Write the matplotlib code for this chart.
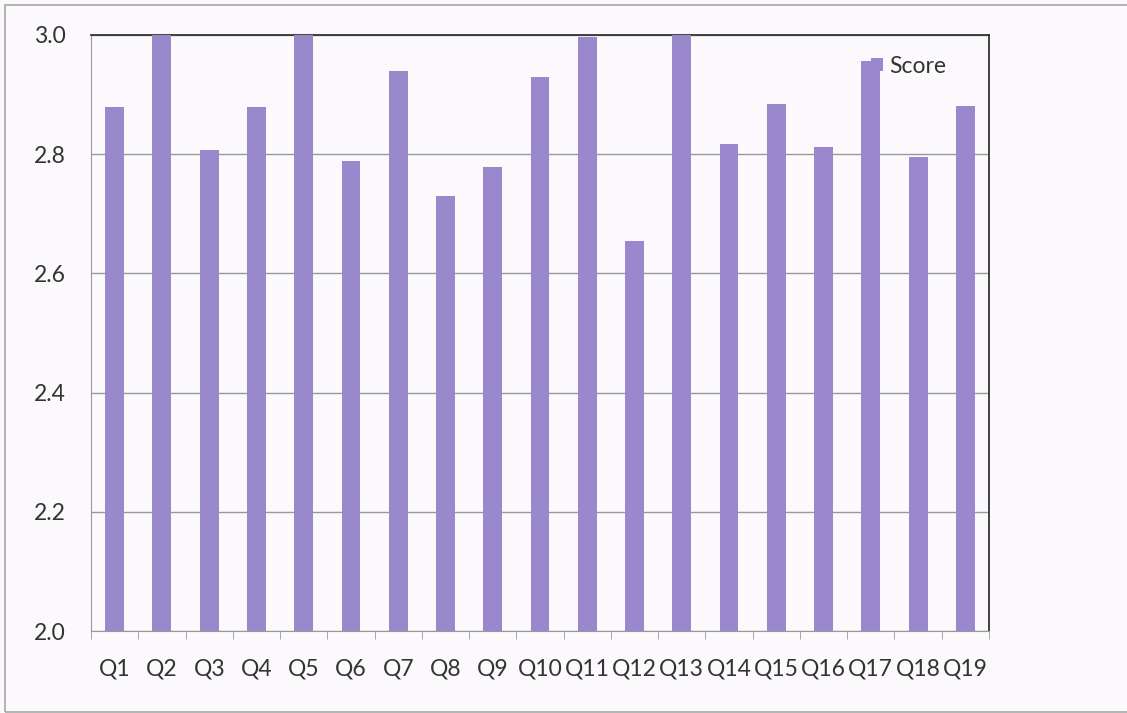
import matplotlib.pyplot as plt
from matplotlib.patches import Rectangle

# valores
questoes = ['Q1', 'Q2', 'Q3', 'Q4', 'Q5', 'Q6', 'Q7', 'Q8', 'Q9', 'Q10',
            'Q11', 'Q12', 'Q13', 'Q14', 'Q15', 'Q16', 'Q17', 'Q18', 'Q19']
score = [2.879, 3.0, 2.807, 2.879, 3.0, 2.789, 2.94, 2.730, 2.779, 2.93,
         2.997, 2.654, 3.0, 2.817, 2.884, 2.812, 2.956, 2.795, 2.881]
yticks = [2.0, 2.2, 2.4, 2.6, 2.8, 3.0]

plt.rcParams['font.family'] = ['Lato', 'DejaVu Sans']
fundo = '#fbf9fc'
cor = '#9a88cc'

fig = plt.figure(figsize=(11.27, 7.13), dpi=100, facecolor=fundo)
ax = fig.add_axes([0.0808, 0.115, 0.7967, 0.836], facecolor=fundo)

# moldura externa do gráfico
fig.patches.append(Rectangle((0.004, 0.002), 1.2, 0.991, transform=fig.transFigure,
                             fill=False, edgecolor='#a8a8a8', linewidth=1.2))

x = list(range(len(questoes)))
ax.bar(x, score, width=0.4, color=cor, label='Score', zorder=3)

ax.set_ylim(2.0, 3.0)
ax.set_xlim(-0.5, len(questoes) - 0.5)
ax.set_yticks(yticks)
ax.set_yticklabels([f'{v:.1f}' for v in yticks], fontsize=16.5, color='#333333')
ax.yaxis.grid(True, color='#999999', linewidth=1, zorder=0)
ax.tick_params(axis='y', length=0, pad=18)

ax.set_xticks(x)
ax.set_xticklabels(questoes, fontsize=16.5, color='#333333')
ax.tick_params(axis='x', which='major', length=0, pad=20)
ax.set_xticks([i - 0.5 for i in range(len(questoes) + 1)], minor=True)
ax.tick_params(axis='x', which='minor', length=6, color='#999999', direction='out')

for lado in ['left', 'bottom']:
    ax.spines[lado].set_color('#999999')
for lado in ['top', 'right']:
    ax.spines[lado].set_color('#333333')
    ax.spines[lado].set_linewidth(1.3)

leg = ax.legend(loc='upper left', bbox_to_anchor=(0.846, 1.0), frameon=False,
                fontsize=16.5, handlelength=0.5, handleheight=0.5, handletextpad=0.3,
                labelcolor='#333333')

fig.savefig('out.png', dpi=100, facecolor=fundo)
